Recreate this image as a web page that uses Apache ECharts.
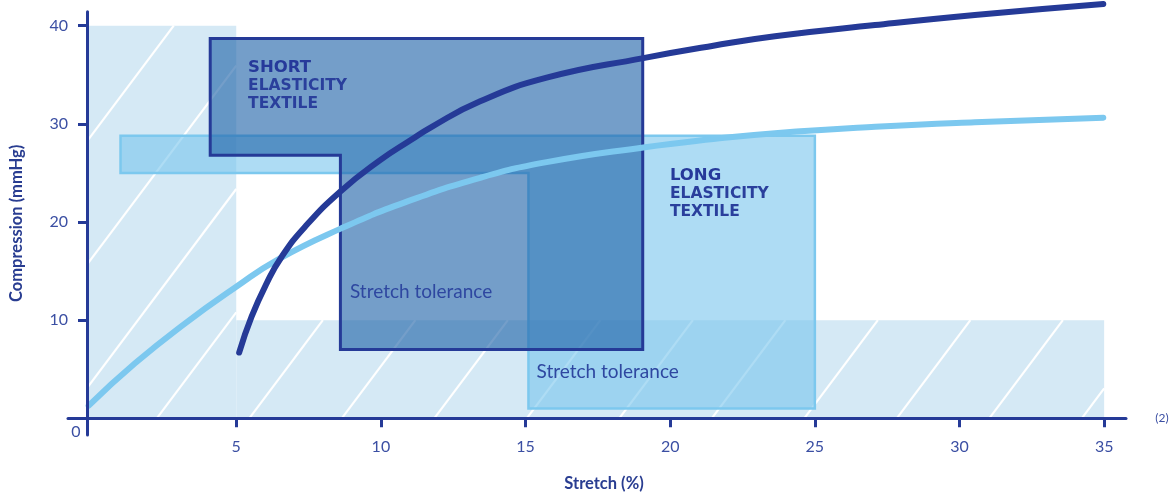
<!DOCTYPE html>
<html>
<head>
<meta charset="utf-8">
<script src="https://cdn.jsdelivr.net/npm/echarts@6/dist/echarts.min.js"></script>
<style>html,body{margin:0;padding:0;background:#fff}#c{width:1175px;height:495px}</style>
</head>
<body>
<div id="c"></div>
<script>
// ---- data ----
const xTicks = [5, 10, 15, 20, 25, 30, 35];
const yTicks = [10, 20, 30, 40];
const originLabel = '0';
const footnote = '(2)';
// hatched zones: [x0, y0, x1, y1]
const hatchZones = [[-0.16, 0, 5, 40], [5, 0, 35, 10]];
// long elasticity working zone (outline vertices)
const longZone = [[1.0, 28.8], [25, 28.8], [25, 1.0], [15.1, 1.0], [15.1, 25.0], [1.0, 25.0]];
// short elasticity working zone (outline vertices)
const shortZone = [[4.1, 38.7], [19.05, 38.7], [19.05, 7.0], [8.6, 7.0], [8.6, 26.8], [4.1, 26.8]];
// compression vs stretch curves
const shortCurve = [[5.1, 6.7], [5.53, 10.35], [6.05, 13.75], [6.57, 16.46], [7.38, 19.52], [8.59, 23.09],
  [9.95, 26.25], [11.06, 28.4], [11.7, 29.6], [13.43, 32.3], [15.73, 34.7], [19.07, 36.7], [21.49, 37.96],
  [23.62, 38.92], [27.08, 40.06], [30.53, 41.08], [34.97, 42.2]];
const longCurve = [[-0.1, 1.3], [1.5, 5.6], [3.2, 9.6], [5.0, 13.4], [6.45, 16.2], [8.59, 19.3], [10.83, 22.0],
  [13.43, 24.5], [15.73, 26.1], [19.07, 27.6], [21.49, 28.45], [23.62, 29.05], [27.08, 29.7], [30.53, 30.17],
  [34.97, 30.63]];
const titleBold = ['SHORT', 'LONG'];
const titleRest = ['ELASTICITY', 'TEXTILE'];
const toleranceText = 'Stretch tolerance';
const xName = 'Stretch (%)';
const yName = 'Compression (mmHg)';

// ---- annotation anchors (data coordinates) ----
const titleAnchors = [[5.41, 36.66], [19.99, 25.63]];
const toleranceAnchors = [[8.93, 12.83], [15.38, 4.69]];

// ---- styles ----
const NAVY = '#253a97';
const LABEL = '#3b4fa3';
const LIGHT = '#7cc8ee';

const chart = echarts.init(document.getElementById('c'), null, {renderer: 'canvas'});

function renderHatch(params, api) {
  const p0 = api.coord([api.value(0), api.value(3)]);
  const p1 = api.coord([api.value(2), api.value(1)]);
  const L = p0[0], T = p0[1], R = p1[0], B = p1[1];
  const children = [{type: 'rect', shape: {x: L, y: T, width: R - L, height: B - T}, style: {fill: '#d5e9f5'}}];
  const k = 0.75, s = 92.5, ph = 8;
  const cMin = L + k * T, cMax = R + k * B;
  for (let c = Math.ceil((cMin - ph) / s) * s + ph; c <= cMax; c += s) {
    const y0 = Math.max(T, (c - R) / k), y1 = Math.min(B, (c - L) / k);
    if (y1 > y0) {
      children.push({type: 'line', shape: {x1: c - k * y0, y1: y0, x2: c - k * y1, y2: y1},
        style: {stroke: '#ffffff', lineWidth: 2.2}});
    }
  }
  return {type: 'group', children};
}

function polygonSeries(points, fill, stroke, lw, z) {
  return {
    type: 'custom', coordinateSystem: 'cartesian2d', data: points, encode: {x: 0, y: 1}, z, silent: true,
    renderItem(params, api) {
      if (params.dataIndex !== 0) return null;
      return {type: 'polygon', shape: {points: points.map(p => api.coord(p))},
        style: {fill, stroke, lineWidth: lw, lineJoin: 'miter'}};
    }
  };
}

const option = {
  animation: false,
  backgroundColor: '#ffffff',
  grid: {left: 68, top: 11.7, width: 1058, height: 423.3, containLabel: false, outerBoundsMode: 'none'},
  xAxis: {
    type: 'value', min: -0.8158, max: 35.755, z: 10,
    axisLine: {onZero: true, lineStyle: {color: NAVY, width: 3}},
    axisTick: {show: true, customValues: xTicks, length: 9, lineStyle: {color: NAVY, width: 3}},
    axisLabel: {customValues: xTicks, margin: 3.7, color: LABEL, fontFamily: 'Lato', fontSize: 16},
    splitLine: {show: false},
    name: xName, nameLocation: 'middle', nameGap: 40,
    nameTextStyle: {color: '#293d91', fontFamily: 'Lato', fontWeight: 'bold', fontSize: 16.5, padding: [0, 0, 0, 14]}
  },
  yAxis: {
    type: 'value', min: -1.7015, max: 41.426, offset: -19, z: 10,
    axisLine: {onZero: false, lineStyle: {color: NAVY, width: 3}},
    axisTick: {show: true, customValues: yTicks, length: 9, lineStyle: {color: NAVY, width: 3}},
    axisLabel: {customValues: yTicks, margin: 19, color: LABEL, fontFamily: 'Lato', fontSize: 16},
    splitLine: {show: false},
    name: yName, nameLocation: 'middle', nameGap: 62,
    nameTextStyle: {color: '#293d91', fontFamily: 'Lato', fontWeight: 'bold', fontSize: 16.5}
  },
  graphic: [
    {type: 'text', x: 76, y: 432, z: 20, style: {text: originLabel, align: 'center', verticalAlign: 'middle',
      fill: LABEL, font: '16px Lato'}},
    {type: 'text', x: 1162, y: 418, z: 20, style: {text: footnote, align: 'center', verticalAlign: 'middle',
      fill: LABEL, font: '12px Lato'}}
  ],
  series: [
    {type: 'custom', coordinateSystem: 'cartesian2d', data: hatchZones, encode: {x: [0, 2], y: [1, 3]},
      renderItem: renderHatch, z: 1, silent: true},
    polygonSeries(longZone, 'rgba(120,197,237,0.6)', LIGHT, 2.5, 2),
    polygonSeries(shortZone, 'rgba(31,99,168,0.62)', NAVY, 3, 3),
    {type: 'line', data: longCurve, smooth: 0.5, symbol: 'none', clip: false, z: 4,
      lineStyle: {color: '#7cc8ef', width: 6, cap: 'round'}},
    {type: 'line', data: shortCurve, smooth: 0.5, symbol: 'none', clip: false, z: 4,
      lineStyle: {color: NAVY, width: 6, cap: 'round'}},
    {type: 'custom', coordinateSystem: 'cartesian2d', data: titleAnchors, encode: {x: 0, y: 1}, z: 6, silent: true,
      renderItem(params, api) {
        const i = params.dataIndex;
        const p = api.coord([api.value(0), api.value(1)]);
        return {type: 'text', x: p[0], y: p[1], style: {
          text: '{b|' + titleBold[i] + '}\n{n|' + titleRest[0] + '}\n{n|' + titleRest[1] + '}',
          align: 'left', verticalAlign: 'top',
          rich: {
            b: {fontFamily: 'DejaVu Sans', fontWeight: 'bold', fontSize: 16.5, lineHeight: 18, fill: '#26399a'},
            n: {fontFamily: 'DejaVu Sans', fontWeight: 'bold', fontSize: 15.5, lineHeight: 18, fill: '#2a3f9c'}
          }
        }};
      }},
    {type: 'custom', coordinateSystem: 'cartesian2d', data: toleranceAnchors, encode: {x: 0, y: 1}, z: 6, silent: true,
      renderItem(params, api) {
        const p = api.coord([api.value(0), api.value(1)]);
        return {type: 'text', x: p[0], y: p[1], style: {
          text: toleranceText, align: 'left', verticalAlign: 'middle',
          fill: '#2e47a0', font: '19px Lato'
        }};
      }}
  ]
};
chart.setOption(option);
</script>
</body>
</html>
